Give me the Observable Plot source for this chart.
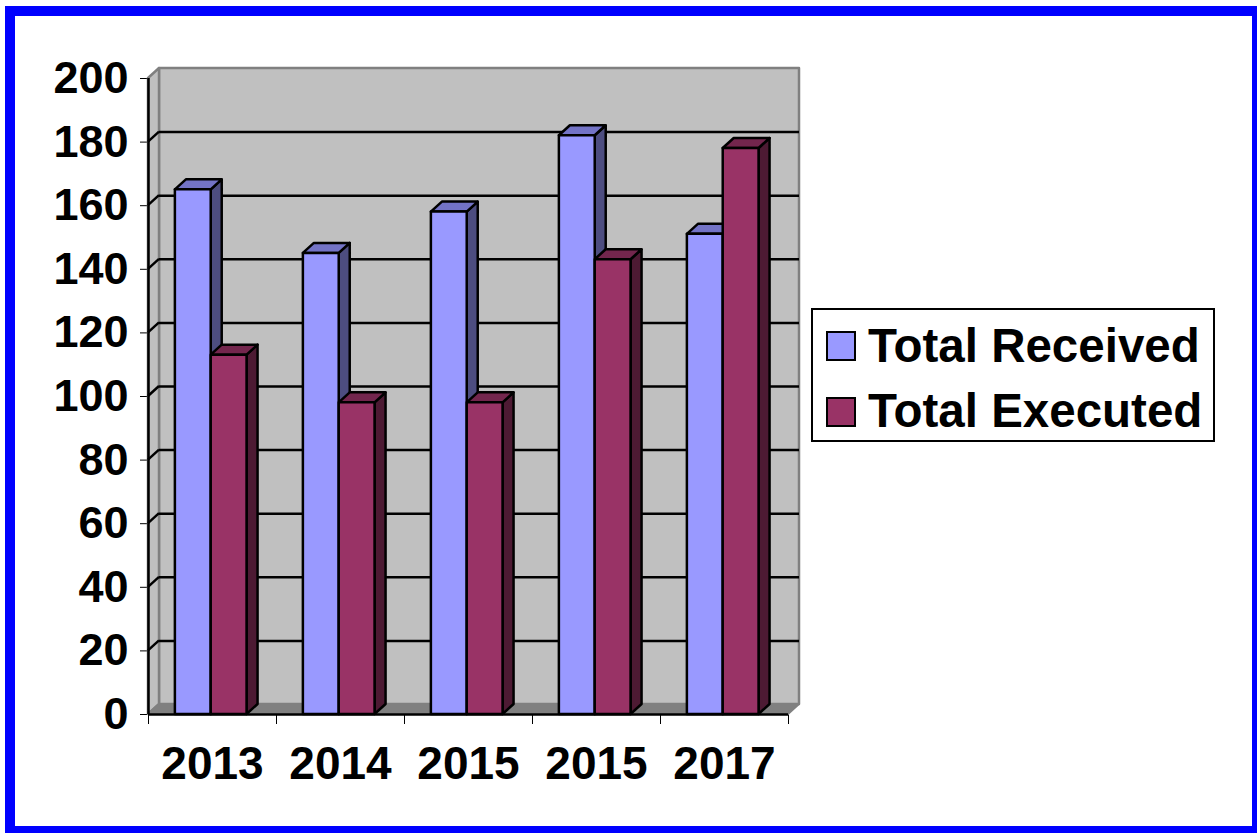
<!DOCTYPE html>
<html>
<head>
<meta charset="utf-8">
<script src="https://cdn.jsdelivr.net/npm/d3@7"></script>
<script src="https://cdn.jsdelivr.net/npm/@observablehq/plot@0.6"></script>
<style>
  html, body { margin: 0; padding: 0; background: #fff; overflow: hidden; }
  #wrap { position: relative; width: 1257px; height: 833px; overflow: hidden; font-family: "Liberation Sans", Arial, sans-serif; }
  #frame { position: absolute; left: 5px; top: 6px; width: 1257px; height: 830px; box-sizing: border-box; border: 10px solid #0000FF; pointer-events: none; }
  #legend { position: absolute; left: 811px; top: 308px; width: 404px; height: 134px; box-sizing: border-box; border: 2px solid #000; background: #fff; }
  .sw { position: absolute; left: 13px; width: 30px; height: 30px; box-sizing: border-box; border: 2px solid #000; }
  .lt { position: absolute; left: 55px; font-size: 47.5px; font-weight: bold; line-height: 1; white-space: nowrap; color: #000; }
</style>
</head>
<body>
<div id="wrap">
  <div id="chart"></div>
  <div id="legend"></div>
  <div id="frame"></div>
</div>
<script>
// ---- data ----
const years = ["2013", "2014", "2015", "2015", "2017"];
const received = [165, 145, 158, 182, 151];
const executed = [113, 98, 98, 143, 178];
const seriesNames = ["Total Received", "Total Executed"];
const yTicks = [0, 20, 40, 60, 80, 100, 120, 140, 160, 180, 200];

// ---- styles ----
const colors = {
  "Total Received": {front: "#9999FF", top: "#7373C6", side: "#4D4D80"},
  "Total Executed": {front: "#993366", top: "#73264D", side: "#4D1A33"}
};
const DX = 11, DY = 10;          // 3D depth offset in pixels
const slot = {"Total Received": [0.21, 0.49], "Total Executed": [0.49, 0.77]};

const bars = [];
years.forEach((yr, i) => {
  bars.push({i, year: yr, series: seriesNames[0], value: received[i]});
  bars.push({i, year: yr, series: seriesNames[1], value: executed[i]});
});

const pts = a => a.map(p => p.join(",")).join(" ");

function walls(index, scales) {
  const {x, y} = scales;
  const g = d3.create("svg:g");
  const xa = x(0), xb = x(5), y0 = y(0), yT = y(200);
  // back wall
  g.append("polygon").attr("points", pts([[xa + DX, yT - DY], [xb + DX, yT - DY], [xb + DX, y0 - DY], [xa + DX, y0 - DY]]))
    .attr("fill", "#C0C0C0").attr("stroke", "#808080").attr("stroke-width", 2.5).attr("stroke-linejoin", "round");
  // left wall
  g.append("polygon").attr("points", pts([[xa, y0], [xa, yT], [xa + DX, yT - DY], [xa + DX, y0 - DY]]))
    .attr("fill", "#C0C0C0").attr("stroke", "#808080").attr("stroke-width", 2.5).attr("stroke-linejoin", "round");
  // floor
  g.append("polygon").attr("points", pts([[xa, y0], [xa + DX, y0 - DY], [xb + DX, y0 - DY], [xb, y0]]))
    .attr("fill", "#808080").attr("stroke", "#808080").attr("stroke-width", 2).attr("stroke-linejoin", "round");
  return g.node();
}

function leftTicks(index, scales) {
  const {x, y} = scales;
  const g = d3.create("svg:g");
  const xa = x(0);
  yTicks.filter(v => v > 0 && v < 200).forEach(v => {
    g.append("line").attr("x1", xa).attr("y1", y(v)).attr("x2", xa + DX).attr("y2", y(v) - DY)
      .attr("stroke", "#000").attr("stroke-width", 2.5);
  });
  return g.node();
}

function barFaces(index, scales) {
  const {x, y} = scales;
  const g = d3.create("svg:g");
  bars.forEach(b => {
    const [a, c] = slot[b.series];
    const x1 = x(b.i + a), x2 = x(b.i + c), yt = y(b.value), yb = y(0);
    const col = colors[b.series];
    g.append("polygon").attr("points", pts([[x2, yb], [x2, yt], [x2 + DX, yt - DY], [x2 + DX, yb - DY]]))
      .attr("fill", col.side).attr("stroke", "#000").attr("stroke-width", 2.5).attr("stroke-linejoin", "round");
    g.append("polygon").attr("points", pts([[x1, yt], [x2, yt], [x2 + DX, yt - DY], [x1 + DX, yt - DY]]))
      .attr("fill", col.top).attr("stroke", "#000").attr("stroke-width", 2.5).attr("stroke-linejoin", "round");
  });
  return g.node();
}

const chart = Plot.plot({
  width: 1257,
  height: 833,
  marginLeft: 148,
  marginRight: 469,
  marginTop: 78,
  marginBottom: 119,
  style: {
    fontFamily: "Liberation Sans, Arial, sans-serif",
    fontSize: "45px",
    fontWeight: "bold",
    color: "#000",
    background: "transparent"
  },
  x: {domain: [0, 5], ticks: [0, 1, 2, 3, 4, 5], tickFormat: () => "", tickSize: 10, label: null},
  y: {domain: [0, 200], ticks: yTicks, tickSize: 8, tickPadding: 12, label: null},
  marks: [
    walls,
    Plot.ruleY(yTicks.filter(v => v > 0 && v < 200), {x1: 0, x2: 5, dx: DX, dy: -DY, stroke: "#000", strokeWidth: 2.5}),
    leftTicks,
    Plot.ruleX([0], {y1: 0, y2: 200, stroke: "#000", strokeWidth: 2.5}),
    Plot.ruleY([0], {x1: 0, x2: 5, stroke: "#000", strokeWidth: 2.5}),
    barFaces,
    Plot.rect(bars, {
      x1: d => d.i + slot[d.series][0],
      x2: d => d.i + slot[d.series][1],
      y1: 0,
      y2: d => d.value,
      fill: d => colors[d.series].front,
      stroke: "#000",
      strokeWidth: 2.5,
      strokeLinejoin: "round"
    }),
    Plot.text(years.map((t, i) => ({t, i})), {
      x: d => d.i + 0.5, y: 0, text: "t", dy: 50,
      fontSize: 46, fontWeight: "bold", fill: "#000"
    })
  ]
});
document.getElementById("chart").appendChild(chart);

// ---- legend ----
const legend = document.getElementById("legend");
seriesNames.forEach((name, k) => {
  const sw = document.createElement("div");
  sw.className = "sw";
  sw.style.top = (21 + k * 66) + "px";
  sw.style.background = colors[name].front;
  legend.appendChild(sw);
  const t = document.createElement("div");
  t.className = "lt";
  t.style.top = (12 + k * 65) + "px";
  t.textContent = name;
  legend.appendChild(t);
});
</script>
</body>
</html>
